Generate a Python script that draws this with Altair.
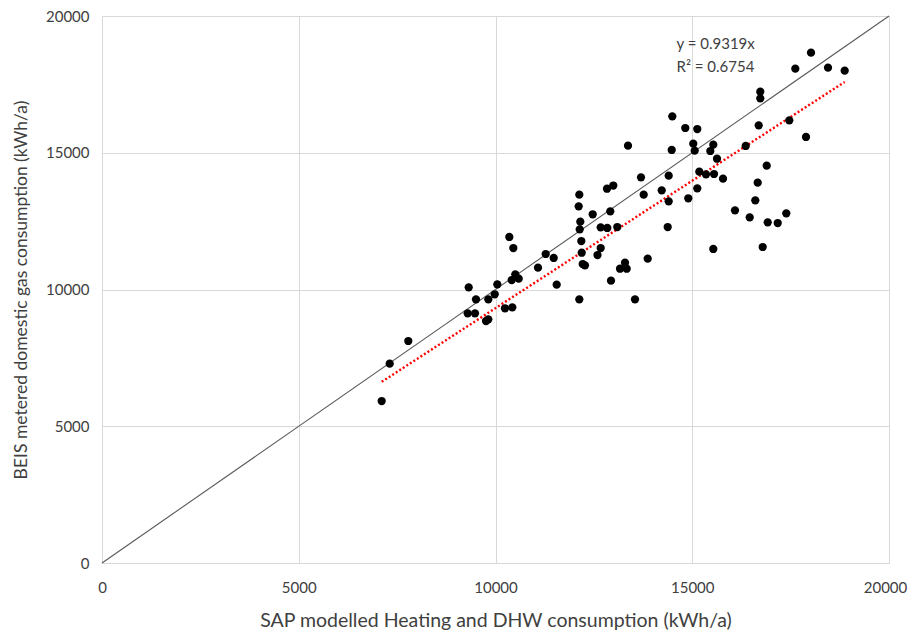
import altair as alt
import pandas as pd

sap_x = [7108, 7311, 7784, 9319, 9504, 9293, 9479, 9817, 9980, 10046,
         9759, 9817, 10241, 10427, 10351, 10453, 10412, 10503, 10590, 11080,
         11276, 11479, 11555, 12130, 12130, 12114, 12155, 12140, 12181, 12191,
         12216, 12274, 12470, 12673, 12841, 13095, 12673, 12592, 12833, 12993,
         12917, 12935, 13164, 13291, 13334, 13868, 13545, 13367, 13698, 13766,
         14224, 14401, 14401, 14376, 14478, 14493, 14823, 15128, 15026, 15062,
         14899, 15128, 15179, 15349, 15553, 15459, 15535, 15629, 15782, 15535,
         16086, 16358, 16460, 16602, 16663, 16689, 16729, 16729, 16790, 16892,
         16918, 17172, 17390, 17466, 17891, 17619, 18018, 18450, 18874]
beis_y = [5923, 7287, 8117, 10079, 9642, 9130, 9130, 9642, 9825, 10190,
          8848, 8910, 9313, 9349, 11920, 11517, 10347, 10556, 10395, 10797,
          11298, 11152, 10176, 9642, 13466, 13042, 12479, 12201, 11773, 11345,
          10932, 10885, 12750, 12274, 12249, 12285, 11517, 11261, 13685, 13802,
          12859, 10322, 10760, 10980, 10760, 11126, 9642, 15258, 14102, 13466,
          13627, 14161, 13225, 12285, 15101, 16333, 15905, 15868, 15331, 15075,
          13335, 13700, 14307, 14212, 14223, 15064, 15294, 14782, 14051, 11481,
          12896, 15247, 12640, 13261, 13905, 16004, 16991, 17232, 11554, 14527,
          12457, 12431, 12786, 16186, 15576, 18073, 18658, 18110, 18000]

trend_slope = 0.9319
r_squared = 0.6754
axis_max = 20000
tick_values = [0, 5000, 10000, 15000, 20000]

FONT = "Lato"
TXT = "#404040"

pts = pd.DataFrame({"x": sap_x, "y": beis_y})
xmin, xmax = min(sap_x), max(sap_x)
trend = pd.DataFrame({"x": [xmin, xmax], "y": [trend_slope * xmin, trend_slope * xmax]})
identity = pd.DataFrame({"x": [0, axis_max], "y": [0, axis_max]})
ann = pd.DataFrame({
    "x": [14600, 14600],
    "y": [18980, 18140],
    "t": [f"y = {trend_slope}x", f"R² = {r_squared}"],
})

xs = alt.Scale(domain=[0, axis_max], nice=False, zero=True)
ys = alt.Scale(domain=[0, axis_max], nice=False, zero=True)

xenc = alt.X("x:Q", scale=xs,
             axis=alt.Axis(title="SAP modelled Heating and DHW consumption (kWh/a)",
                           values=tick_values, format="d", ticks=False,
                           labelFlush=False,
                           labelOffset={"condition": {"test": f"datum.value == {axis_max}", "value": -4},
                                        "value": 0},
                           labelPadding=17, titlePadding=16,
                           gridColor="#d9d9d9", domainColor="#d9d9d9",
                           labelFont=FONT, titleFont=FONT, labelFontSize=15,
                           titleFontSize=19.5, titleFontWeight="normal",
                           labelColor=TXT, titleColor=TXT))
yenc = alt.Y("y:Q", scale=ys,
             axis=alt.Axis(title="BEIS metered domestic gas consumption (kWh/a)",
                           values=tick_values, format="d", ticks=False,
                           labelFlush=False,
                           labelPadding=13, titlePadding=15,
                           gridColor="#d9d9d9", domainColor="#d9d9d9",
                           labelFont=FONT, titleFont=FONT, labelFontSize=15,
                           titleFontSize=17.5, titleFontWeight="normal",
                           labelColor=TXT, titleColor=TXT))

id_line = alt.Chart(identity).mark_line(color="#595959", strokeWidth=1.1).encode(x=xenc, y=yenc)
tr_line = alt.Chart(trend).mark_line(color="#ff0000", strokeWidth=2.4,
                                     strokeDash=[2, 2.2]).encode(x="x:Q", y="y:Q")
dots = alt.Chart(pts).mark_circle(color="black", opacity=1, size=68).encode(x="x:Q", y="y:Q")
text = alt.Chart(ann).mark_text(align="left", baseline="middle", font=FONT,
                                fontSize=15, color=TXT).encode(x="x:Q", y="y:Q", text="t:N")

chart = alt.layer(id_line, tr_line, dots, text).properties(
    width=787, height=547,
    autosize=alt.AutoSizeParams(type="none"),
    padding={"left": 94, "top": 8, "right": 18, "bottom": 68},
).configure_view(stroke=None).configure(background="white")

chart.save("out.html", embed_options={"renderer": "svg", "actions": False})
